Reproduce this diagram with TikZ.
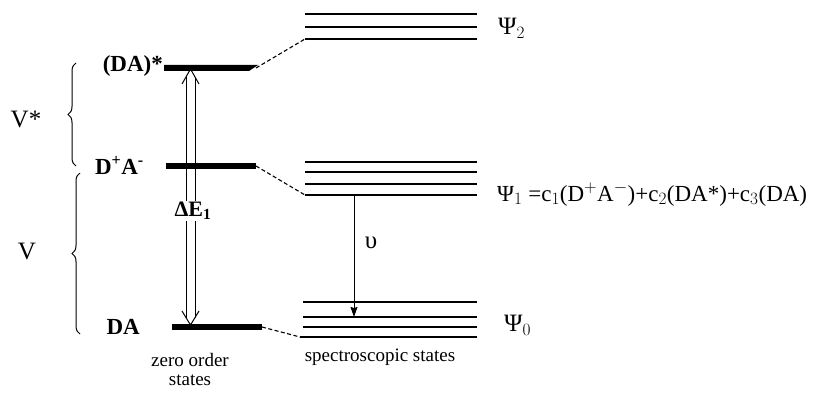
\documentclass[tikz,border=0pt]{standalone}
\usepackage{fontspec}
\setmainfont{Liberation Serif}
\usetikzlibrary{arrows.meta,decorations.pathreplacing}
\begin{document}
\begin{tikzpicture}[x=1pt,y=-1pt,
  zerolevel/.style={line width=6pt},
  speclevel/.style={line width=1.3pt},
  corr/.style={line width=1.1pt, dash pattern=on 4pt off 2.5pt},
  arrline/.style={line width=1pt},
  statelbl/.style={font=\bfseries\fontsize{23}{26}\selectfont, inner sep=1pt},
  psilbl/.style={font=\fontsize{25}{28}\selectfont, inner sep=1pt, anchor=west},
  eqlbl/.style={font=\fontsize{23}{26}\selectfont, inner sep=1pt, anchor=west},
  smalllbl/.style={font=\fontsize{19}{19}\selectfont, align=center, inner sep=1pt},
  bracelbl/.style={font=\fontsize{25}{28}\selectfont, inner sep=1pt},
  vbrace/.style={decorate, decoration={brace, amplitude=8pt}, line width=1pt}]
\useasboundingbox (0,0) rectangle (816,398);
% double arrow Delta E1 (drawn first, levels over it)
\coordinate (dEtop) at (190.5,69);
\coordinate (dEbot) at (190.5,325);
\draw[arrline] (186,77) -- (186,318);
\draw[arrline] (195,77) -- (195,318);
\draw[arrline, line join=miter] (dEtop) ++(-8.5,15) -- (dEtop) -- ++(8.5,15);
\draw[arrline, line join=miter] (dEbot) ++(-8.5,-14) -- (dEbot) -- ++(8.5,-14);
\node[font=\bfseries\fontsize{22}{24}\selectfont, fill=white, inner sep=1pt] (dE) at (193,211) {ΔE$_{\mathbf{1}}$};
% zero order levels
\coordinate (dsL) at (164,68);  \coordinate (dsR) at (256,68);
\coordinate (ctL) at (166,166); \coordinate (ctR) at (256,166);
\coordinate (gsL) at (172,327); \coordinate (gsR) at (262,327);
\fill (164,65) -- (258,65) -- (249,71) -- (164,71) -- cycle;
\draw[zerolevel] (ctL) -- (ctR);
\draw[zerolevel] (gsL) -- (gsR);
% spectroscopic levels
\foreach \y in {14,27}{\draw[speclevel] (305,\y) -- (477,\y);}
\coordinate (p2L) at (305,39); \coordinate (p2R) at (477,39);
\draw[speclevel] (p2L) -- (p2R);
\foreach \y in {162,172,184}{\draw[speclevel] (305,\y) -- (477,\y);}
\coordinate (p1L) at (305,195); \coordinate (p1R) at (477,195);
\draw[speclevel] (p1L) -- (p1R);
\foreach \y in {302,317,327}{\draw[speclevel] (303,\y) -- (477,\y);}
\coordinate (p0L) at (300,337); \coordinate (p0R) at (477,337);
\draw[speclevel] (p0L) -- (p0R);
% correlation lines
\draw[corr] (dsR) -- (p2L);
\draw[corr] (ctR) -- (p1L);
\draw[corr] (gsR) -- (p0L);
% emission arrow
\coordinate (nuTop) at (354,196);
\coordinate (nuBot) at (354,317);
\draw[line width=1pt, -{Stealth[length=10pt,width=7pt,inset=1pt]}] (nuTop) -- (nuBot);
\node[font=\fontsize{25}{27}\selectfont] (nu) at (371,243) {υ};
% state labels
\node[statelbl, anchor=east] (DAs) at (164,66) {(DA)*};
\node[statelbl, anchor=east] (DpAm) at (145,165) {D\textsuperscript{+}A\textsuperscript{-}};
\node[statelbl, anchor=east] (DA) at (141,327) {DA};
\node[psilbl] (psi2) at (497,28) {Ψ$_2$};
\node[eqlbl] (psi1) at (496,194) {Ψ$_1$ =c$_1$(D$^+$A$^-$)+c$_2$(DA*)+c$_3$(DA)};
\node[psilbl] (psi0) at (503,325) {Ψ$_0$};
% braces
\draw[vbrace] (76,166) -- (76,63);
\draw[vbrace] (80,334) -- (80,173);
\node[bracelbl] (Vs) at (26,120) {V*};
\node[bracelbl] (V) at (27,252) {V};
% captions
\node[smalllbl] (zero) at (190,369) {zero order\\states};
\node[smalllbl] (spec) at (380,357) {spectroscopic states};
\end{tikzpicture}
\end{document}
